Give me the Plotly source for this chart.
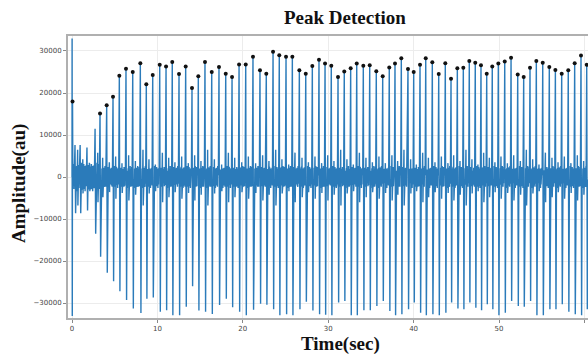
import plotly.graph_objects as go

# ---- data ----
beat_times = [0.06, 3.28, 4.06, 4.80, 5.54, 6.32, 7.11, 8.00, 8.70, 9.45, 10.27, 11.01, 11.74, 12.53,
              13.31, 14.05, 14.79, 15.57, 16.36, 17.21, 18.00, 18.74, 19.56, 20.34, 21.19, 22.01,
              22.75, 23.54, 24.27, 25.06, 25.80, 26.62, 27.37, 28.14, 28.92, 29.63, 30.36, 31.15,
              31.88, 32.63, 33.34, 34.11, 34.86, 35.63, 36.38, 37.15, 37.82, 38.56, 39.34, 40.01,
              40.75, 41.42, 42.19, 42.94, 43.71, 44.38, 45.12, 45.82, 46.52, 47.22, 47.89, 48.56,
              49.21, 49.92, 50.67, 51.41, 52.19, 52.89, 53.63, 54.37, 55.12, 55.89, 56.60, 57.34,
              58.11, 58.86, 59.60, 60.27]
peak_values = [18000, 15100, 17100, 19100, 24100, 25800, 25000, 27100, 22100, 24300,
               26700, 26300, 27400, 24500, 26300, 21200, 24000, 27400, 25000, 26200,
               24600, 23800, 26800, 26800, 28600, 25400, 24600, 29800, 29000, 28600,
               28600, 25400, 24600, 26400, 27900, 27000, 26500, 23800, 25100, 25900,
               27000, 26500, 26600, 25200, 24000, 26100, 27000, 28300, 25700, 25000,
               26700, 28300, 27300, 24500, 27100, 23400, 25900, 26000, 27600, 27200,
               26600, 24600, 26300, 27000, 27500, 28400, 24400, 23800, 26000, 27600,
               27200, 26200, 25500, 24600, 25400, 27100, 28900, 26700]
trough_values = [-33100, -19000, -22800, -24800, -27200, -29300, -31300, -32400, -29000, -28700,
                 -32100, -31700, -32900, -32900, -30900, -26000, -31800, -32100, -32600, -30500,
                 -29000, -31000, -32100, -32900, -31600, -30200, -30400, -31500, -32900, -32700,
                 -32900, -31500, -29700, -31800, -32700, -32800, -32900, -29900, -29500, -32900,
                 -32900, -31700, -31700, -30700, -29500, -31900, -32900, -32700, -31500, -29900,
                 -32300, -32900, -32700, -32900, -32300, -29900, -31300, -31500, -29900, -31100,
                 -31700, -30300, -31500, -32900, -32300, -29500, -30700, -30900, -29500, -32900,
                 -32900, -31500, -31500, -30300, -32100, -32700, -32900, -31500]
onset_top = 33000
# small undetected spikes at the start
minor_times = [0.35, 0.95, 1.75, 2.70]
minor_up = [7600, 7600, 7000, 11500]
minor_down = [-8600, -8600, -8000, -13500]
# baseline wiggle values (au) and secondary bumps between beats
wiggle = [1800, -1500, 2400, -2200, 1700, -1900, 2000, -2600, 1500, -1800, 2100, -1700,
          2200, -2000, 1600, -2300, 2600, -1600, 1900, -2300]
second_up = [5200, 3800, 6500, 4200, 3000, 5800, 4600, 3500, 4900, 3300]
second_down = [-5600, -4200, -6800, -3900, -3400, -6000, -4800, -3600, -5200, -3800]

x_ticks = [0, 10, 20, 30, 40, 50, 60]
y_ticks = [-30000, -20000, -10000, 0, 10000, 20000, 30000]
y_tick_text = ["\u221230000", "\u221220000", "\u221210000", "0", "10000", "20000", "30000"]

# ---- build the signal trace ----
events = []
for t, u, d in zip(minor_times, minor_up, minor_down):
    events.append((t, u, d, False))
for i, (t, u, d) in enumerate(zip(beat_times, peak_values, trough_values)):
    events.append((t, u, d, i == 0))
events.sort(key=lambda e: e[0])

sig_t, sig_v = [0.0], [0.0]
cursor = 0.0
step = 0.03
wi = 0
si = 0
end_t = 60.45
for (tc, up, dn, first) in events:
    start = tc - 0.07
    tt = cursor + step
    k = 0
    while tt < start - 0.01:
        scale = 1.3 if tt < 3.2 else 1.0
        if k == 5:
            v = second_up[si % len(second_up)]
        elif k == 6:
            v = second_down[si % len(second_down)]
        else:
            v = wiggle[wi % len(wiggle)] * scale
            wi += 1
        sig_t.append(tt)
        sig_v.append(v)
        tt += step
        k += 1
    si += 1
    if first:
        sig_t += [tc - 0.05, tc - 0.03, tc, tc + 0.04]
        sig_v += [onset_top, dn, up, -1500]
        cursor = tc + 0.04
    else:
        sig_t += [tc - 0.07, tc, tc + 0.07, tc + 0.13]
        sig_v += [400, up, dn, -600]
        cursor = tc + 0.13
tt = cursor + step
while tt < end_t:
    sig_t.append(tt)
    sig_v.append(wiggle[wi % len(wiggle)])
    wi += 1
    tt += step

fig = go.Figure()
fig.add_trace(go.Scatter(x=sig_t, y=sig_v, mode="lines",
                         line=dict(color="#2b7bba", width=1.4), hoverinfo="skip",
                         showlegend=False))
fig.add_trace(go.Scatter(x=beat_times, y=peak_values, mode="markers",
                         marker=dict(color="#111111", size=4), showlegend=False))

serif = "Liberation Serif"
fig.update_layout(
    width=588, height=356,
    margin=dict(l=68, r=0, t=36, b=38),
    paper_bgcolor="white", plot_bgcolor="white",
    xaxis=dict(range=[-0.47, 60.42], tickvals=x_ticks, ticktext=[str(v) for v in x_ticks],
               showgrid=True, gridcolor="#ececec", gridwidth=1, zeroline=False,
               showline=True, linecolor="#b0b0b0", linewidth=2, mirror=True,
               ticks="outside", ticklen=3, tickcolor="#888888",
               tickfont=dict(family="DejaVu Sans", size=7, color="#444444")),
    yaxis=dict(range=[-33570, 33570], tickvals=y_ticks, ticktext=y_tick_text,
               showgrid=True, gridcolor="#ececec", gridwidth=1, zeroline=False,
               showline=True, linecolor="#b0b0b0", linewidth=2,
               ticks="outside", ticklen=3, tickcolor="#888888",
               tickfont=dict(family="DejaVu Sans", size=7, color="#444444")),
)

plot_w, plot_h = 520, 282
def px_to_paper(px, py):
    return (px - 68) / plot_w, (318 - py) / plot_h
ax, ay = px_to_paper(345, 17)
bx, by = px_to_paper(340, 344)
cx, cy = px_to_paper(19, 184)
fig.add_annotation(text="<b>Peak Detection</b>", x=ax, y=ay, xref="paper", yref="paper",
                   showarrow=False, xanchor="center", yanchor="middle",
                   font=dict(family=serif, size=19, color="#111111"))
fig.add_annotation(text="<b>Time(sec)</b>", x=bx, y=by, xref="paper", yref="paper",
                   showarrow=False, xanchor="center", yanchor="middle", borderpad=0,
                   font=dict(family=serif, size=19, color="#111111"))
fig.add_annotation(text="<b>Amplitude(au)</b>", x=cx, y=cy, xref="paper", yref="paper",
                   showarrow=False, xanchor="center", yanchor="middle", textangle=-90,
                   font=dict(family=serif, size=19, color="#111111"))

fig.write_html("out.html")
